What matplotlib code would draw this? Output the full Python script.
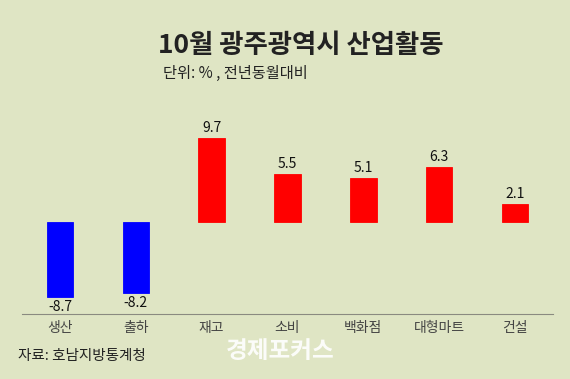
import matplotlib.pyplot as plt

plt.rcParams['font.family'] = ['Noto Sans CJK KR', 'DejaVu Sans']

categories = ['생산', '출하', '재고', '소비', '백화점', '대형마트', '건설']
values = [-8.7, -8.2, 9.7, 5.5, 5.1, 6.3, 2.1]

bg = '#dfe5c4'
fig = plt.figure(figsize=(5.7, 3.79), dpi=100, facecolor=bg)
ax = fig.add_axes([22 / 570, (379 - 314) / 379, 531 / 570, 196 / 379])
ax.set_facecolor(bg)

x = range(len(categories))
colors = ['#0000ff' if v < 0 else '#ff0000' for v in values]
ax.bar(x, values, width=0.35, color=colors, edgecolor=colors, linewidth=0.6)

for i, v in enumerate(values):
    if v < 0:
        ax.text(i, v - 0.35, f'{v:.1f}', ha='center', va='top', fontsize=10, color='#111')
    else:
        ax.text(i, v + 0.35, f'{v:.1f}', ha='center', va='bottom', fontsize=10, color='#111')

ax.set_xlim(-0.5, 6.5)
ax.set_ylim(-10.66, 12)
ax.set_yticks([])
ax.set_xticks(list(x))
ax.set_xticklabels(categories, fontsize=10, color='#444')
ax.tick_params(axis='x', length=0, pad=5)
for s in ['top', 'right', 'left']:
    ax.spines[s].set_visible(False)
ax.spines['bottom'].set_color('#8a8a80')
ax.spines['bottom'].set_linewidth(0.8)

fig.text(0.527, 0.88, '10월 광주광역시 산업활동', ha='center', va='center',
         fontsize=19, fontweight='black', color='#222')
fig.text(163 / 570, 0.807, '단위: % , 전년동월대비', ha='left', va='center',
         fontsize=11, color='#222')
fig.text(18 / 570, 0.06, '자료: 호남지방통계청', ha='left', va='center',
         fontsize=10.5, color='#222')
fig.text(280 / 570, 0.075, '경제포커스', ha='center', va='center',
         fontsize=17, fontweight='bold', color='white', alpha=0.9)

fig.savefig('out.png', dpi=100, facecolor=bg)
